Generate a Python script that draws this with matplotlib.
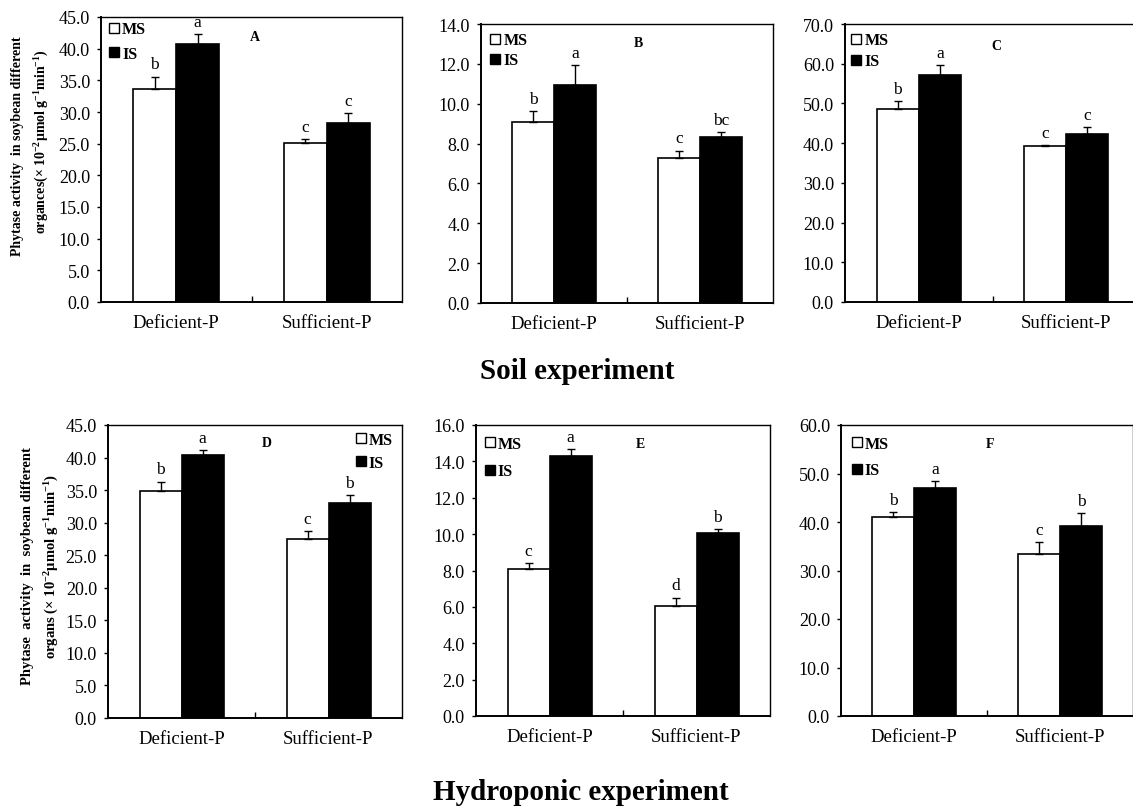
import numpy as np
import matplotlib
matplotlib.use('Agg')
import matplotlib.pyplot as plt
import matplotlib.lines as mlines
from matplotlib.ticker import MultipleLocator, FormatStrFormatter, FixedLocator

plt.rcParams['font.family'] = ['Liberation Serif', 'DejaVu Serif']
plt.rcParams['mathtext.fontset'] = 'custom'
plt.rcParams['mathtext.rm'] = 'Liberation Serif:bold'
plt.rcParams['mathtext.it'] = 'Liberation Serif:bold'
plt.rcParams['mathtext.bf'] = 'Liberation Serif:bold'

# --- data ---
categories = ['Deficient-P', 'Sufficient-P']

A_ms = [33.7, 25.1]; A_ms_err = [1.9, 0.6]; A_is = [40.7, 28.3]; A_is_err = [1.6, 1.5]
A_ms_sig = ['b', 'c']; A_is_sig = ['a', 'c']

B_ms = [9.06, 7.28]; B_ms_err = [0.55, 0.37]; B_is = [10.96, 8.34]; B_is_err = [0.96, 0.23]
B_ms_sig = ['b', 'c']; B_is_sig = ['a', 'bc']

C_ms = [48.5, 39.2]; C_ms_err = [2.0, 0.3]; C_is = [57.2, 42.4]; C_is_err = [2.5, 1.6]
C_ms_sig = ['b', 'c']; C_is_sig = ['a', 'c']

D_ms = [34.8, 27.5]; D_ms_err = [1.5, 1.2]; D_is = [40.35, 33.0]; D_is_err = [0.75, 1.2]
D_ms_sig = ['b', 'c']; D_is_sig = ['a', 'b']

E_ms = [8.09, 6.07]; E_ms_err = [0.31, 0.44]; E_is = [14.27, 10.04]; E_is_err = [0.41, 0.22]
E_ms_sig = ['c', 'd']; E_is_sig = ['a', 'b']

F_ms = [41.1, 33.5]; F_ms_err = [1.0, 2.3]; F_is = [47.1, 39.2]; F_is_err = [1.3, 2.7]
F_ms_sig = ['b', 'c']; F_is_sig = ['a', 'b']

W, H = 1133, 812
fig = plt.figure(figsize=(W / 100, H / 100), dpi=100)

def px_axes(left, right, top, bottom):
    return fig.add_axes([left / W, 1 - bottom / H, (right - left) / W, (bottom - top) / H])

# panel layout: pixel box, y max, y step, legend anchor, legend spacing, letter position
panels = [
    dict(box=(101, 402, 18, 303), ymax=45, step=5, data=(A_ms, A_ms_err, A_is, A_is_err, A_ms_sig, A_is_sig),
         leg=(0.025, 0.985), lsp=0.55, tag='A', tagpos=(0.512, 0.933)),
    dict(box=(481, 773, 25, 304), ymax=14, step=2, data=(B_ms, B_ms_err, B_is, B_is_err, B_ms_sig, B_is_sig),
         leg=(0.030, 0.97), lsp=0.25, tag='B', tagpos=(0.538, 0.935)),
    dict(box=(845, 1140, 25, 303), ymax=70, step=10, data=(C_ms, C_ms_err, C_is, C_is_err, C_ms_sig, C_is_sig),
         leg=(0.020, 0.97), lsp=0.3, tag='C', tagpos=(0.512, 0.924)),
    dict(box=(108, 402, 426, 719), ymax=45, step=5, data=(D_ms, D_ms_err, D_is, D_is_err, D_ms_sig, D_is_sig),
         leg=(0.840, 0.977), lsp=0.45, tag='D', tagpos=(0.541, 0.939)),
    dict(box=(476, 770, 426, 717), ymax=16, step=2, data=(E_ms, E_ms_err, E_is, E_is_err, E_ms_sig, E_is_sig),
         leg=(0.027, 0.962), lsp=0.7, tag='E', tagpos=(0.558, 0.938)),
    dict(box=(841, 1133, 426, 717), ymax=60, step=10, data=(F_ms, F_ms_err, F_is, F_is_err, F_ms_sig, F_is_sig),
         leg=(0.034, 0.962), lsp=0.65, tag='F', tagpos=(0.51, 0.938)),
]

bw = 1 / 3.5  # excel gap width 150%
x = np.arange(len(categories))

for p in panels:
    ax = px_axes(*p['box'])
    ms, ms_err, is_, is_err, ms_sig, is_sig = p['data']

    ax.bar(x - bw / 2, ms, bw, color='white', edgecolor='black', linewidth=1.2, zorder=2)
    ax.bar(x + bw / 2, is_, bw, color='black', edgecolor='black', linewidth=1.2, zorder=2)
    ax.errorbar(x - bw / 2, ms, yerr=[np.zeros(len(ms)), ms_err], fmt='none', ecolor='black',
                elinewidth=1, capsize=3, capthick=1, zorder=3)
    ax.errorbar(x + bw / 2, is_, yerr=[np.zeros(len(is_)), is_err], fmt='none', ecolor='black',
                elinewidth=1, capsize=3, capthick=1, zorder=3)

    for xi, yi, ei, s in zip(x - bw / 2, ms, ms_err, ms_sig):
        ax.annotate(s, (xi, yi + ei), xytext=(0, 3), textcoords='offset points',
                    ha='center', va='bottom', fontsize=12.5)
    for xi, yi, ei, s in zip(x + bw / 2, is_, is_err, is_sig):
        ax.annotate(s, (xi, yi + ei), xytext=(0, 3), textcoords='offset points',
                    ha='center', va='bottom', fontsize=12.5)

    ax.set_xlim(-0.5, 1.5)
    ax.set_ylim(0, p['ymax'])
    ax.yaxis.set_major_locator(MultipleLocator(p['step']))
    ax.yaxis.set_major_formatter(FormatStrFormatter('%.1f'))
    ax.tick_params(axis='y', direction='out', length=3, width=1, pad=5, labelsize=13)

    ax.set_xticks(x)
    ax.set_xticklabels(categories)
    ax.tick_params(axis='x', length=0, pad=9, labelsize=13.5)
    ax.xaxis.set_minor_locator(FixedLocator([0.5]))
    ax.tick_params(axis='x', which='minor', direction='in', length=4, width=1)

    for sp in ax.spines.values():
        sp.set_linewidth(1.0)
    ax.spines['left'].set_linewidth(1.4)
    ax.spines['bottom'].set_linewidth(1.4)

    ax.text(p['tagpos'][0], p['tagpos'][1], p['tag'], transform=ax.transAxes,
            ha='center', va='center', fontsize=10, fontweight='bold')

    handles = [
        mlines.Line2D([], [], marker='s', linestyle='None', markersize=7.5, markerfacecolor='white',
                      markeredgecolor='black', markeredgewidth=1.0, label='MS'),
        mlines.Line2D([], [], marker='s', linestyle='None', markersize=7.5, markerfacecolor='black',
                      markeredgecolor='black', markeredgewidth=1.0, label='IS'),
    ]
    ax.legend(handles=handles, loc='upper left', bbox_to_anchor=p['leg'], frameon=False,
              borderpad=0, borderaxespad=0, handlelength=0.7, handletextpad=0.15,
              labelspacing=p['lsp'], prop={'weight': 'bold', 'size': 11.5})

# y-axis titles
fig.text(18 / W, 1 - 146 / H, 'Phytase activity  in soybean different', rotation=90,
         ha='center', va='center', fontsize=10, fontweight='bold')
fig.text(42 / W, 1 - 142 / H, 'organces(× 10$^{-2}$μmol g$^{-1}$min$^{-1}$)', rotation=90,
         ha='center', va='center', fontsize=10, fontweight='bold')
fig.text(28 / W, 1 - 566 / H, 'Phytase  activity  in  soybean different', rotation=90,
         ha='center', va='center', fontsize=10.5, fontweight='bold')
fig.text(52 / W, 1 - 566 / H, 'organs (× 10$^{-2}$μmol g$^{-1}$min$^{-1}$)', rotation=90,
         ha='center', va='center', fontsize=10.5, fontweight='bold')

fig.text(577 / W, 1 - 372 / H, 'Soil experiment', ha='center', va='center',
         fontsize=21, fontweight='bold')
fig.text(581 / W, 1 - 793 / H, 'Hydroponic experiment', ha='center', va='center',
         fontsize=21, fontweight='bold')

fig.savefig('out.png', dpi=100, facecolor='white')
